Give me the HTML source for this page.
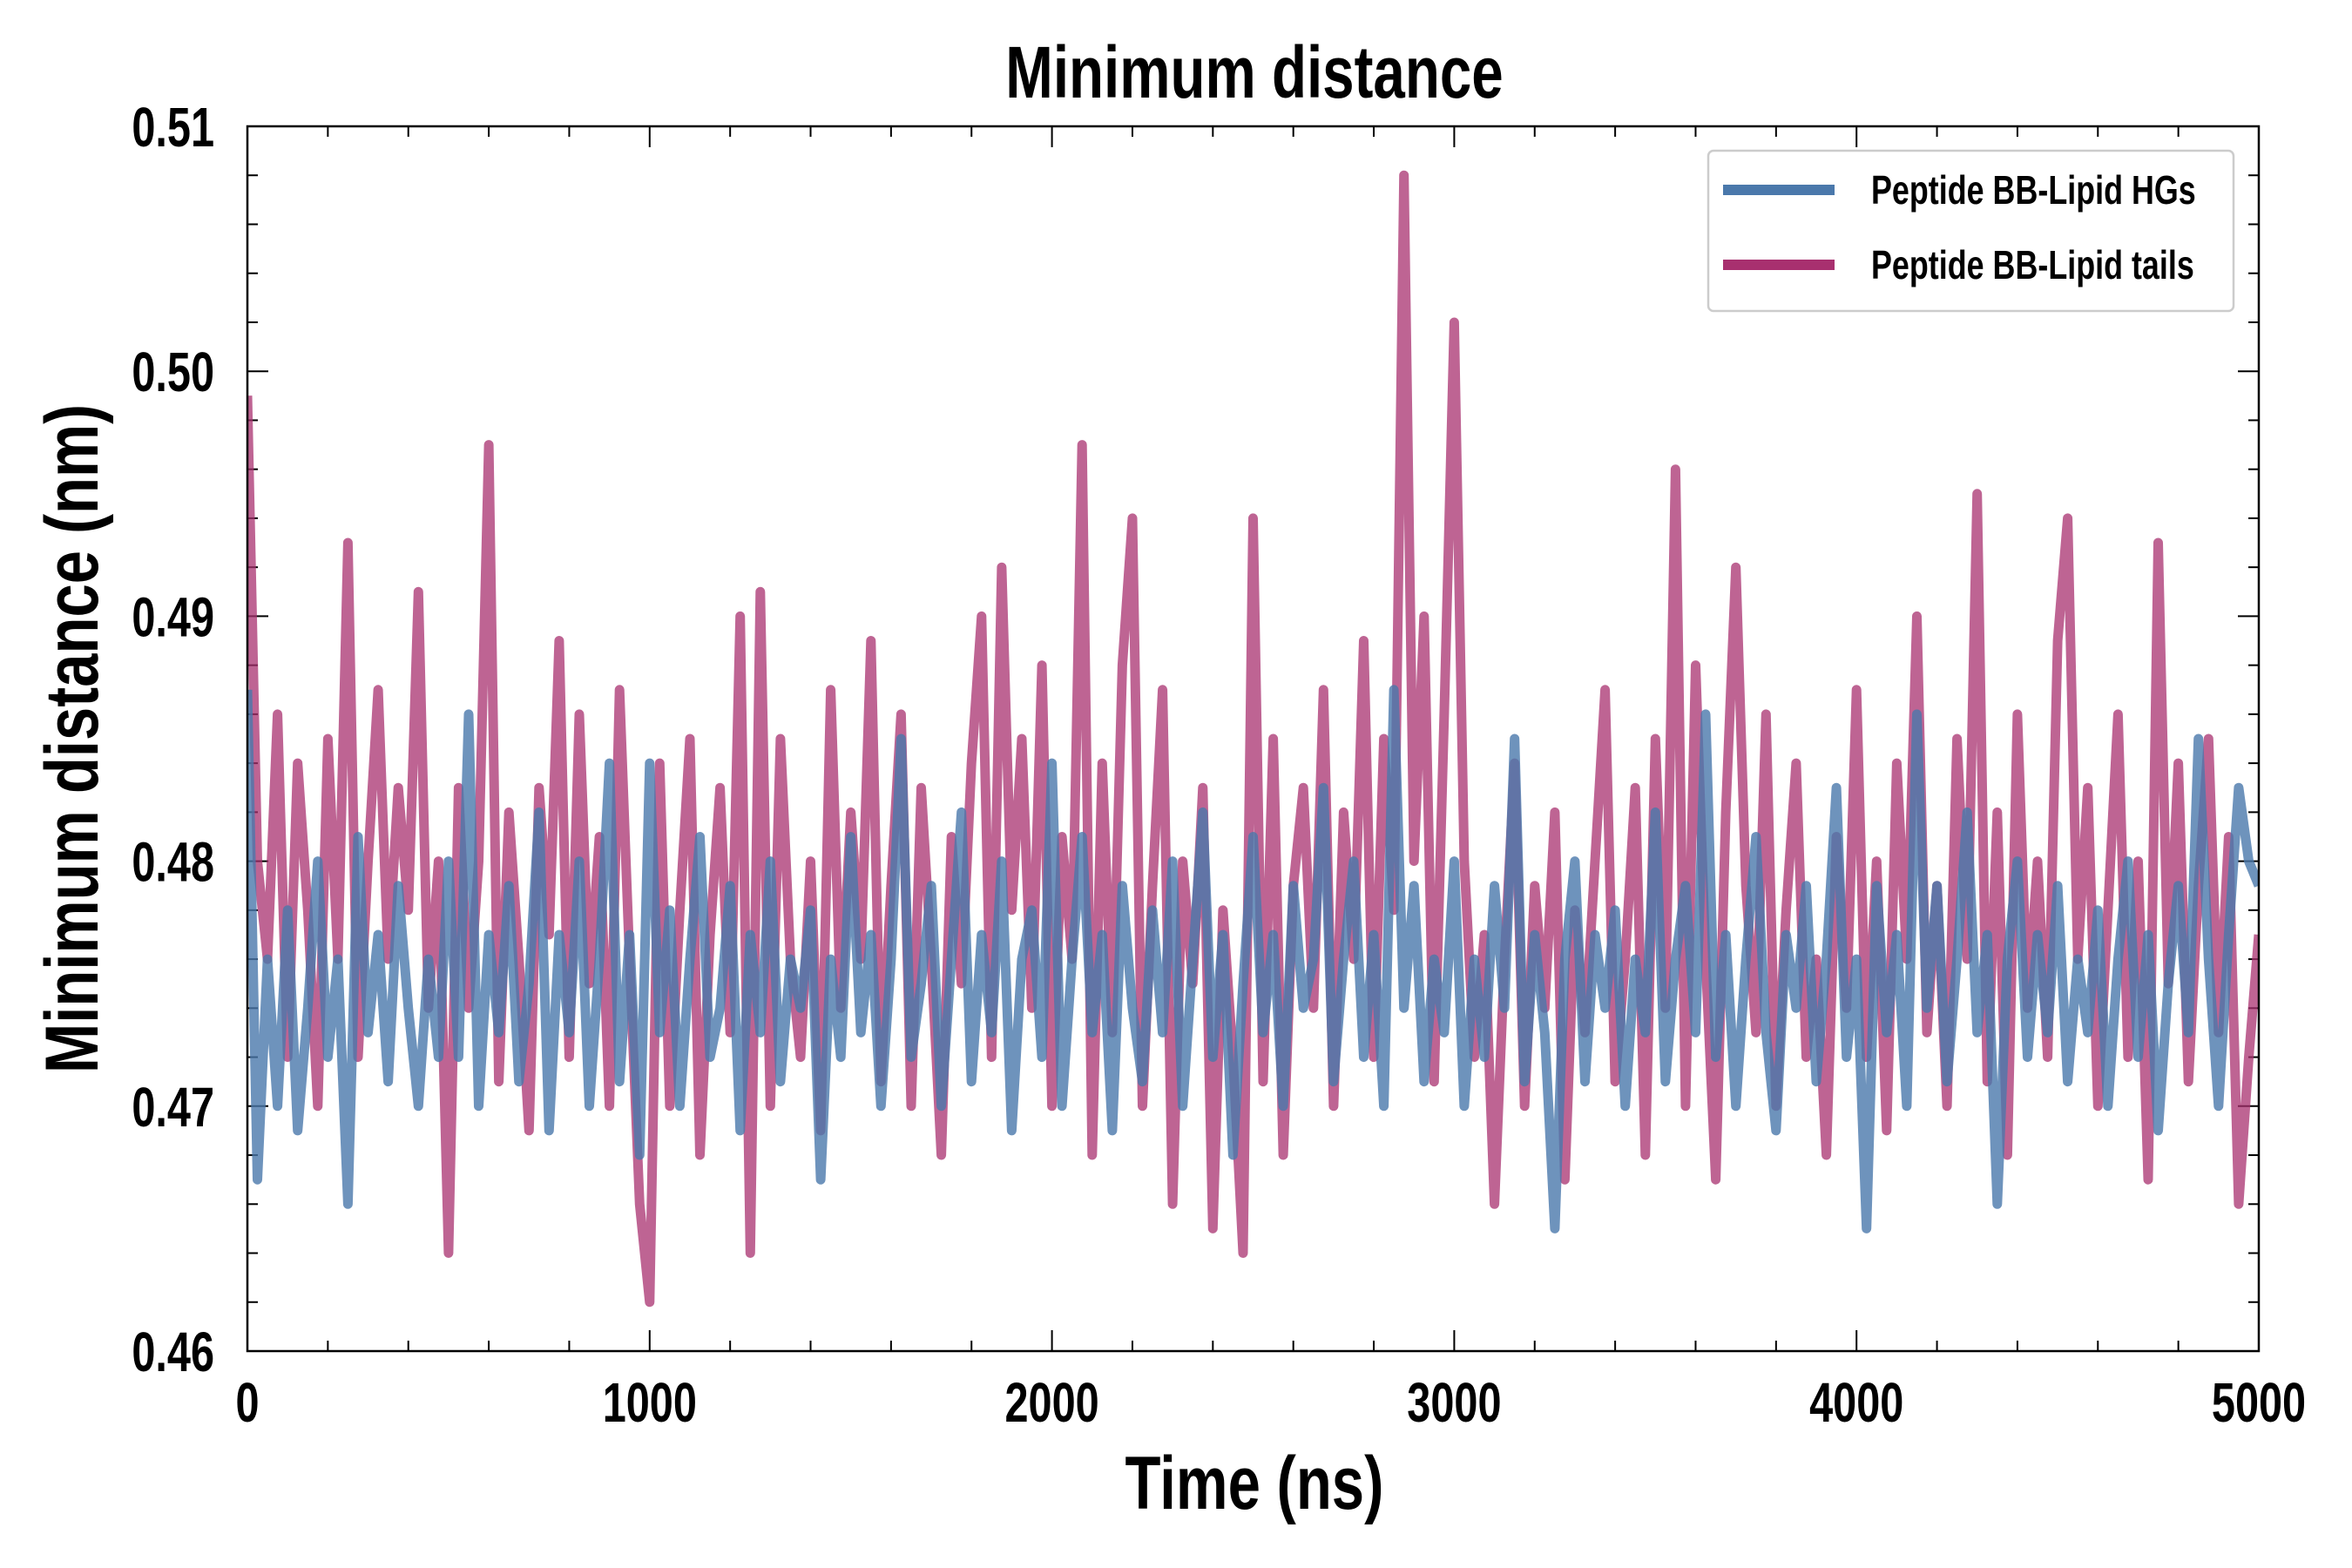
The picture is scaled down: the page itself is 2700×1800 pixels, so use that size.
<!DOCTYPE html>
<html><head><meta charset="utf-8"><style>
html,body{margin:0;padding:0;background:#fff;}
svg{display:block;}
text{font-family:"Liberation Sans Narrow","Liberation Sans",sans-serif;font-weight:bold;fill:#000;}
</style></head><body>
<svg id="chart" width="2700" height="1800" viewBox="0 0 2700 1800" xmlns="http://www.w3.org/2000/svg">
<text x="1440" y="112" font-size="84" text-anchor="middle" transform="translate(1440 0) scale(0.78 1) translate(-1440 0)">Minimum distance</text>
<text x="1440" y="1732" font-size="86" text-anchor="middle" transform="translate(1440 0) scale(0.78 1) translate(-1440 0)">Time (ns)</text>
<text x="0" y="0" font-size="86" text-anchor="middle" transform="translate(112 848) rotate(-90) scale(0.8 1)">Minimum distance (nm)</text>
<g id="ticks"></g>
<clipPath id="clip"><rect x="284" y="145" width="2309" height="1406"/></clipPath>
<g id="series" clip-path="url(#clip)"></g>
<rect x="284" y="145" width="2309" height="1406" fill="none" stroke="#000" stroke-width="2.5"/>
<g>
<rect x="1961" y="173" width="603" height="184" rx="6" fill="#fff" fill-opacity="0.85" stroke="#ccc" stroke-width="2.5"/>
<line x1="1978" y1="218" x2="2106" y2="218" stroke="#4a78ab" stroke-width="12"/>
<text x="2148" y="234" font-size="46" transform="translate(2148 0) scale(0.78 1) translate(-2148 0)">Peptide BB-Lipid HGs</text>
<line x1="1978" y1="304" x2="2106" y2="304" stroke="#a8306f" stroke-width="12"/>
<text x="2148" y="320" font-size="46" transform="translate(2148 0) scale(0.78 1) translate(-2148 0)">Peptide BB-Lipid tails</text>
</g>
</svg>
<script>
const xTicks=[0,1000,2000,3000,4000,5000];
const yTicks=[0.46,0.47,0.48,0.49,0.50,0.51];
const yTickLabels=["0.46","0.47","0.48","0.49","0.50","0.51"];
const timeStep=25;
const tailsValues=[
0.499,0.480,0.476,0.486,0.472,0.484,0.478,0.470,0.485,0.476,0.493,0.472,0.480,0.487,0.476,0.483,0.478,0.491,0.474,0.480,
0.464,0.483,0.474,0.480,0.497,0.471,0.482,0.476,0.469,0.483,0.477,0.489,0.472,0.486,0.475,0.481,0.470,0.487,0.476,0.466,
0.462,0.484,0.470,0.478,0.485,0.468,0.477,0.483,0.473,0.490,0.464,0.491,0.470,0.485,0.476,0.472,0.480,0.469,0.487,0.474,
0.482,0.476,0.489,0.471,0.479,0.486,0.470,0.483,0.476,0.468,0.481,0.475,0.484,0.490,0.472,0.492,0.478,0.485,0.474,0.488,
0.470,0.481,0.476,0.497,0.468,0.484,0.473,0.488,0.494,0.470,0.479,0.487,0.466,0.480,0.475,0.483,0.465,0.478,0.472,0.464,
0.494,0.471,0.485,0.468,0.479,0.483,0.474,0.487,0.470,0.482,0.476,0.489,0.472,0.485,0.478,0.508,0.480,0.490,0.471,0.486,
0.502,0.480,0.472,0.477,0.466,0.476,0.484,0.470,0.479,0.474,0.482,0.467,0.478,0.473,0.480,0.487,0.471,0.476,0.483,0.468,
0.485,0.474,0.496,0.470,0.488,0.476,0.467,0.482,0.492,0.479,0.473,0.486,0.470,0.478,0.484,0.472,0.476,0.468,0.481,0.474,
0.487,0.472,0.480,0.469,0.484,0.476,0.490,0.473,0.479,0.470,0.485,0.476,0.495,0.471,0.482,0.468,0.486,0.474,0.480,0.472,
0.489,0.494,0.476,0.483,0.470,0.478,0.486,0.472,0.480,0.467,0.493,0.475,0.484,0.471,0.479,0.485,0.473,0.481,0.466,0.472,
0.477];
const hgsValues=[
0.487,0.467,0.476,0.470,0.478,0.469,0.474,0.480,0.472,0.476,0.466,0.481,0.473,0.477,0.471,0.479,0.474,0.470,0.476,0.472,
0.480,0.472,0.486,0.470,0.477,0.473,0.479,0.471,0.475,0.482,0.469,0.477,0.473,0.480,0.470,0.476,0.484,0.471,0.477,0.468,
0.484,0.473,0.478,0.470,0.476,0.481,0.472,0.474,0.479,0.469,0.477,0.473,0.480,0.471,0.476,0.474,0.478,0.467,0.476,0.472,
0.481,0.473,0.477,0.470,0.476,0.485,0.472,0.475,0.479,0.470,0.476,0.482,0.471,0.477,0.473,0.480,0.469,0.476,0.478,0.472,
0.484,0.470,0.476,0.481,0.473,0.477,0.469,0.479,0.474,0.471,0.478,0.473,0.480,0.470,0.476,0.482,0.472,0.477,0.468,0.475,
0.481,0.473,0.477,0.470,0.479,0.474,0.476,0.483,0.471,0.476,0.480,0.472,0.477,0.470,0.487,0.474,0.479,0.471,0.476,0.473,
0.480,0.470,0.476,0.472,0.479,0.474,0.485,0.471,0.477,0.473,0.465,0.476,0.480,0.471,0.477,0.474,0.478,0.470,0.476,0.473,
0.482,0.471,0.476,0.479,0.473,0.486,0.472,0.477,0.470,0.476,0.481,0.473,0.469,0.477,0.474,0.479,0.471,0.476,0.483,0.472,
0.476,0.465,0.479,0.473,0.477,0.470,0.486,0.474,0.479,0.471,0.476,0.482,0.473,0.477,0.466,0.476,0.480,0.472,0.477,0.473,
0.479,0.471,0.476,0.473,0.478,0.470,0.476,0.480,0.472,0.477,0.469,0.475,0.479,0.473,0.485,0.476,0.470,0.477,0.483,0.480,
0.479];

const NS="http://www.w3.org/2000/svg";
const L=284,R=2593,T=145,B=1551,xMin=0,xMax=5000,yMin=0.46,yMax=0.51;
function sx(v){return L+(v-xMin)/(xMax-xMin)*(R-L);}
function sy(v){return B-(v-yMin)/(yMax-yMin)*(B-T);}
function mk(tag,attrs,parent){const e=document.createElementNS(NS,tag);for(const k in attrs)e.setAttribute(k,attrs[k]);parent.appendChild(e);return e;}
const tg=document.getElementById('ticks');
function tick(x1,y1,x2,y2,nm){const l=mk('line',{x1:x1,y1:y1,x2:x2,y2:y2,stroke:'#000','stroke-width':2},tg);

}
for(let v=0;v<=5000;v+=200){const x=sx(v);const major=v%1000===0;const len=major?24:12;
tick(x,B,x,B-len,'x-tick');tick(x,T,x,T+len,'x-tick-top');}
for(let i=0;i<=25;i++){const v=yMin+i*0.002;const y=sy(v);const major=i%5===0;const len=major?24:12;
tick(L,y,L+len,y,'y-tick');tick(R,y,R-len,y,'y-tick-right');}
xTicks.forEach(v=>{const t=mk('text',{x:sx(v),y:1632,'font-size':64,'text-anchor':'middle',transform:`translate(${sx(v)} 0) scale(0.76 1) translate(${-sx(v)} 0)`},tg);t.textContent=String(v);

});
yTicks.forEach((v,i)=>{const t=mk('text',{x:246,y:sy(v)+23,'font-size':64,'text-anchor':'end',transform:`translate(246 0) scale(0.76 1) translate(-246 0)`},tg);t.textContent=yTickLabels[i];

});
const sg=document.getElementById('series');
function line(vals,color,op,nm){const d=vals.map((v,i)=>(i?'L':'M')+sx(i*timeStep).toFixed(1)+','+sy(v).toFixed(1)).join('');
const p=mk('path',{d:d,fill:'none',stroke:color,'stroke-width':11,'stroke-opacity':op,'stroke-linejoin':'round'},sg);

}
line(tailsValues,'#a8306f',0.75,'series-lipid-tails');
line(hgsValues,'#4a78ab',0.8,'series-lipid-hgs');
</script>
</body></html>
